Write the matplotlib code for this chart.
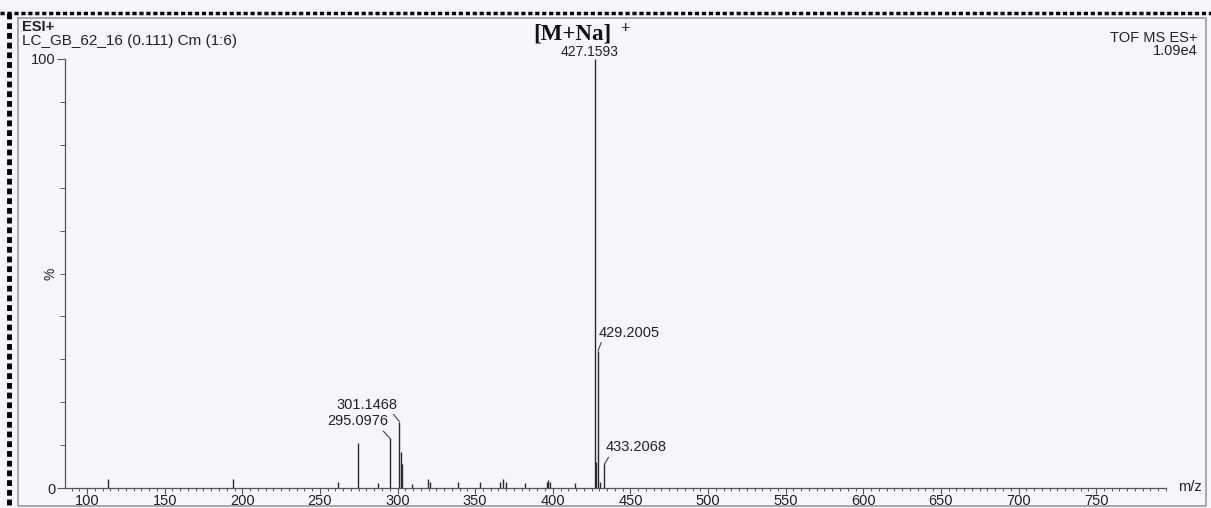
import matplotlib
matplotlib.use("Agg")
import matplotlib.pyplot as plt
from matplotlib.lines import Line2D
from matplotlib.ticker import MultipleLocator

plt.rcParams['font.family'] = ['Liberation Sans', 'DejaVu Sans']

# ---- data (m/z, relative intensity %) ----
peak_mz = [113.5, 194.0, 261.5, 274.3, 287.4, 295.0976, 301.1468, 302.15, 303.15,
           309.0, 319.6, 321.0, 339.0, 353.0, 366.0, 368.0, 370.0, 382.0,
           396.0, 397.0, 398.0, 414.0, 427.1593, 428.16, 429.2005, 430.2, 433.2068]
peak_int = [2.0, 2.0, 1.5, 10.5, 1.2, 11.6, 15.5, 8.3, 5.5,
            1.0, 2.0, 1.5, 1.5, 1.5, 1.5, 2.0, 1.5, 1.2,
            1.5, 1.8, 1.5, 1.2, 100.0, 6.0, 32.0, 1.5, 5.5]

labelled_mz = [295.0976, 301.1468, 429.2005, 433.2068]
labelled_int = [11.6, 15.5, 32.0, 5.5]
labelled_text = ["295.0976", "301.1468", "429.2005", "433.2068"]

x_ticks = [100, 150, 200, 250, 300, 350, 400, 450, 500, 550, 600, 650, 700, 750]
y_ticks = [0, 100]

W, H = 1211, 508
fig = plt.figure(figsize=(W / 100, H / 100), dpi=100)
fig.patch.set_facecolor('#f6f6f8')

def fx(px):
    return px / W

def fy(py):
    return 1 - py / H

ax_left, ax_right, ax_top, ax_bottom = 65, 1166, 59, 488
ax = fig.add_axes([fx(ax_left), fy(ax_bottom), fx(ax_right) - fx(ax_left), fy(ax_top) - fy(ax_bottom)])
ax.set_facecolor('none')

ink = '#2a2a2a'
ax.vlines(peak_mz, 0, peak_int, color=ink, lw=1.0)

ax.set_xlim(85.8, 795)
ax.set_ylim(0, 100)

for s in ['top', 'right']:
    ax.spines[s].set_visible(False)
for s in ['left', 'bottom']:
    ax.spines[s].set_color('#555555')
    ax.spines[s].set_linewidth(0.9)

ax.set_xticks(x_ticks)
ax.xaxis.set_minor_locator(MultipleLocator(5))
ax.set_yticks(y_ticks)
ax.yaxis.set_minor_locator(MultipleLocator(10))
ax.tick_params(axis='x', which='major', direction='out', length=4.5, width=0.8, color='#555555',
               labelsize=10.5, labelcolor='#222222', pad=0)
ax.tick_params(axis='x', which='minor', direction='out', length=2.5, width=0.7, color='#555555')
ax.tick_params(axis='y', which='major', direction='out', length=6, width=0.8, color='#555555',
               labelsize=10.5, labelcolor='#222222', pad=1)
ax.tick_params(axis='y', which='minor', direction='out', length=3.5, width=0.7, color='#555555')

# "%" y label
ax.text(-0.013, 50, '%', transform=ax.get_yaxis_transform(), rotation=90,
        ha='center', va='center', fontsize=10, color='#222222')

# peak labels
offsets = [(-2, 10), (-2, 10), (1, 11), (1, 10)]
has = ['right', 'right', 'left', 'left']
relposs = [(0.88, 0.0), (0.9, 0.0), (0.05, 0.0), (0.08, 0.0)]
for m, i, t, off, ha, rp in zip(labelled_mz, labelled_int, labelled_text, offsets, has, relposs):
    ax.annotate(t, xy=(m, i), xytext=off, textcoords='offset pixels',
                ha=ha, va='bottom', fontsize=10.5, color='#222222',
                arrowprops=dict(arrowstyle='-', color='#444444', lw=0.8,
                                relpos=rp, shrinkA=0, shrinkB=0))

# top peak label
fig.text(fx(590), fy(52), '427.1593', fontsize=10, ha='center', va='center', color='#222222')

# header texts
fig.text(fx(22), fy(27), 'ESI+', fontsize=10.5, fontweight='bold', ha='left', va='center', color='#222222')
fig.text(fx(22), fy(41), 'LC_GB_62_16 (0.111) Cm (1:6)', fontsize=11, ha='left', va='center', color='#222222')
fig.text(fx(1198), fy(38), 'TOF MS ES+', fontsize=10.5, ha='right', va='center', color='#222222')
fig.text(fx(1198), fy(51), '1.09e4', fontsize=10.5, ha='right', va='center', color='#222222')
fig.text(fx(1178), fy(487), 'm/z', fontsize=10.5, ha='left', va='center', color='#222222')
fig.text(fx(533), fy(34), '[M+Na]', fontsize=16.5, fontweight='bold', family='Liberation Serif',
         ha='left', va='center', color='#111111')
fig.text(fx(620), fy(29), '+', fontsize=12, fontweight='bold', family='Liberation Serif',
         ha='left', va='center', color='#111111')

# scan frame
fig.add_artist(Line2D([fx(0), fx(W)], [fy(13), fy(13)], color='black', lw=2.5,
                      linestyle=(0, (1.2, 0.8)), transform=fig.transFigure))
fig.add_artist(Line2D([fx(9), fx(9)], [fy(13), fy(H)], color='black', lw=3.5,
                      linestyle=(0, (1.2, 0.8)), transform=fig.transFigure))
fig.add_artist(Line2D([fx(18), fx(1206), fx(1206), fx(18), fx(18)],
                      [fy(18), fy(18), fy(506), fy(506), fy(18)], color='#9a9a9a', lw=1.2,
                      transform=fig.transFigure))

fig.savefig('out.png', dpi=100, facecolor=fig.get_facecolor())
